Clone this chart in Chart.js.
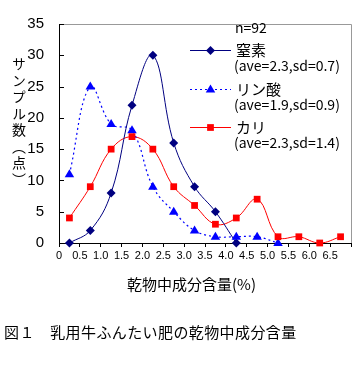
<!DOCTYPE html>
<html><head><meta charset="utf-8">
<script src="https://cdn.jsdelivr.net/npm/chart.js@4/dist/chart.umd.min.js"></script>
<style>
html,body{margin:0;padding:0;background:#fff;}
#wrap{position:relative;width:354px;height:366px;overflow:hidden;font-family:"Noto Sans CJK JP","Noto Sans",sans-serif;color:#000;}
#c{position:absolute;left:0;top:0;}
#ytitle{position:absolute;left:11px;top:57px;writing-mode:vertical-rl;font-size:14px;line-height:16px;letter-spacing:2.5px;}
#xtitle{position:absolute;left:127px;top:273px;font-size:15px;white-space:nowrap;}
#caption{position:absolute;left:4px;top:321px;font-size:15px;letter-spacing:0.4px;white-space:pre;}
</style></head>
<body>
<div id="wrap">
<canvas id="c" width="354" height="366"></canvas>
<div id="ytitle">サンプル数（点）</div>
<div id="xtitle">乾物中成分含量(%)</div>
<div id="caption">図１　乳用牛ふんたい肥の乾物中成分含量</div>
</div>
<script>
const categories = [0.25,0.75,1.25,1.75,2.25,2.75,3.25,3.75,4.25,4.75,5.25,5.75,6.25,6.75];
const nitrogen  = [0,2,8,22,30,16,9,5,0,null,null,null,null,null];
const phosphate = [11,25,19,18,9,5,2,1,1,1,0,null,null,null];
const potash    = [4,9,15,17,15,9,6,3,4,7,1,1,0,1];
const xTickLabels = ['0','0.5','1.0','1.5','2.0','2.5','3.0','3.5','4.0','4.5','5.0','5.5','6.0','6.5'];
const yTicks = [0,5,10,15,20,25,30,35];
const seriesNames = ['窒素','リン酸','カリ'];
const seriesStats = ['(ave=2.3,sd=0.7)','(ave=1.9,sd=0.9)','(ave=2.3,sd=1.4)'];
const sampleCount = 'n=92';

function toXY(arr){ return categories.map((x,i)=>({x:x,y:arr[i]})); }

function drawMarker(ctx, style, x, y, r, color){
  ctx.save();
  ctx.fillStyle = color; ctx.strokeStyle = color; ctx.setLineDash([]);
  ctx.beginPath();
  if(style==='rectRot'){
    ctx.moveTo(x, y-r); ctx.lineTo(x+r, y); ctx.lineTo(x, y+r); ctx.lineTo(x-r, y); ctx.closePath();
  } else if(style==='triangle'){
    ctx.moveTo(x, y-r); ctx.lineTo(x+r*0.95, y+r*0.6); ctx.lineTo(x-r*0.95, y+r*0.6); ctx.closePath();
  } else {
    const s = r*0.75;
    ctx.rect(x-s, y-s, 2*s, 2*s);
  }
  ctx.fill();
  ctx.restore();
}

const framePlugin = {
  id:'frame',
  beforeDatasetsDraw(chart){
    const {ctx, chartArea:a} = chart;
    ctx.save();
    ctx.strokeStyle = '#999999'; ctx.lineWidth = 1;
    ctx.beginPath();
    ctx.moveTo(a.left, a.top+0.5); ctx.lineTo(a.right+0.5, a.top+0.5); ctx.lineTo(a.right+0.5, a.bottom);
    ctx.stroke();
    const ys = chart.scales.y;
    ctx.strokeStyle = '#000';
    ctx.beginPath();
    yTicks.forEach(v=>{ const py = Math.round(ys.getPixelForValue(v))+0.5; ctx.moveTo(a.left, py); ctx.lineTo(a.left+5, py); });
    ctx.stroke();
    ctx.restore();
  },
  afterDraw(chart){
    const ctx = chart.ctx;
    ctx.save();
    ctx.fillStyle = '#000';
    ctx.textBaseline = 'middle'; ctx.textAlign = 'left';
    ctx.font = '14px "Noto Sans CJK JP", sans-serif';
    ctx.fillText(sampleCount, 235, 28);
    const rows = [50, 89, 127];
    chart.data.datasets.forEach((ds,i)=>{
      const y = rows[i];
      ctx.strokeStyle = ds.borderColor; ctx.lineWidth = 1;
      ctx.setLineDash(ds.borderDash || []);
      ctx.beginPath(); ctx.moveTo(190, y+0.5); ctx.lineTo(231, y+0.5); ctx.stroke();
      ctx.setLineDash([]);
      drawMarker(ctx, ds.pointStyle, 210.5, y+0.5, ds.pointStyle==='triangle'?5:4.5, ds.pointBackgroundColor);
      ctx.fillStyle = '#000';
      ctx.font = '15px "Noto Sans CJK JP", sans-serif';
      ctx.fillText(seriesNames[i], 236, y);
      ctx.font = '14px "Noto Sans CJK JP", sans-serif';
      ctx.fillText(seriesStats[i], 234, y+16);
    });
    ctx.restore();
  }
};

const markerPlugin = {
  id:'markers',
  afterDatasetsDraw(chart){
    const ctx = chart.ctx;
    chart.data.datasets.forEach((ds,i)=>{
      const meta = chart.getDatasetMeta(i);
      meta.data.forEach((pt,j)=>{
        if(ds.data[j].y===null || ds.data[j].y===undefined) return;
        drawMarker(ctx, ds.pointStyle, pt.x, pt.y, ds.pointStyle==='triangle'?5:4.5, ds.pointBackgroundColor);
      });
    });
  }
};

new Chart(document.getElementById('c'), {
  type:'line',
  data:{ datasets:[
    {label:seriesNames[0], data:toXY(nitrogen), borderColor:'#000080', pointBackgroundColor:'#000080', pointStyle:'rectRot', borderWidth:1, tension:0.4, pointRadius:0, clip:false, spanGaps:false},
    {label:seriesNames[1], data:toXY(phosphate), borderColor:'#0000FF', pointBackgroundColor:'#0000FF', pointStyle:'triangle', borderWidth:1.2, borderDash:[2,3], tension:0.4, pointRadius:0, clip:false, spanGaps:false},
    {label:seriesNames[2], data:toXY(potash), borderColor:'#FF0000', pointBackgroundColor:'#FF0000', pointStyle:'rect', borderWidth:1, tension:0.4, pointRadius:0, clip:false, spanGaps:false}
  ]},
  options:{
    responsive:false, animation:false, devicePixelRatio:1,
    layout:{padding:{left:0, right:3, top:8, bottom:71}},
    plugins:{legend:{display:false}, tooltip:{enabled:false}},
    scales:{
      x:{type:'linear', min:0, max:7,
        ticks:{stepSize:0.5, autoSkip:false, maxRotation:0, color:'#000', padding:2,
          font:{size:11, family:'"Liberation Sans", sans-serif'},
          callback:(v,i)=> (i < xTickLabels.length ? xTickLabels[i] : '')},
        grid:{display:true, drawOnChartArea:false, tickLength:4, color:'#000'},
        border:{color:'#000', width:1},
        afterFit:(s)=>{ s.height = 52; }
      },
      y:{min:0, max:35,
        ticks:{stepSize:5, color:'#000', padding:15, font:{size:15, family:'"Liberation Sans", sans-serif'}},
        grid:{display:true, drawOnChartArea:false, drawTicks:false, color:'#000'},
        border:{color:'#000', width:1},
        afterFit:(s)=>{ s.width = 59; }
      }
    }
  },
  plugins:[framePlugin, markerPlugin]
});
</script>
</body></html>
